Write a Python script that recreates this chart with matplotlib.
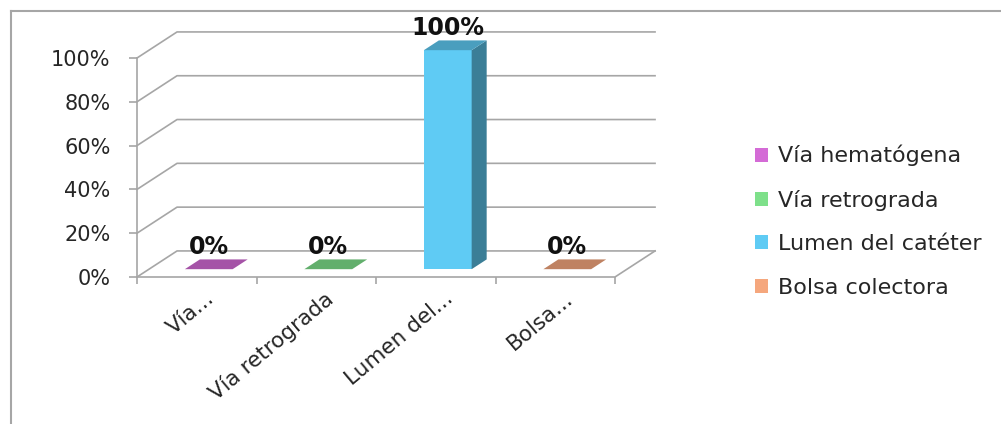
import matplotlib
matplotlib.use('Agg')
import matplotlib.pyplot as plt
from matplotlib.patches import Polygon, Patch
from matplotlib.lines import Line2D
from matplotlib.colors import to_rgb

# Datos del grafico
categorias = ['Vía hematógena', 'Vía retrograda', 'Lumen del catéter', 'Bolsa colectora']
etiquetas_x = ['Vía...', 'Vía retrograda', 'Lumen del...', 'Bolsa...']
valores = [0.0, 0.0, 1.0, 0.0]
colores = ['#d46bd6', '#7ee08a', '#5fcbf4', '#f5a77d']
ticks_y = [0, 0.2, 0.4, 0.6, 0.8, 1.0]

W, H = 1001, 424
gris = '#a6a6a6'

# Profundidad "3D" en unidades de datos
DX = 0.335   # desplazamiento horizontal de la pared del fondo
DY = 0.119   # desplazamiento vertical de la pared del fondo
Z0, Z1 = 0.30, 0.675   # profundidad de la cara frontal y trasera de las barras
ANCHO = 0.40


def sombra(color, f):
    r, g, b = to_rgb(color)
    return (r * f, g * f, b * f)


fig = plt.figure(figsize=(W / 100, H / 100), dpi=100)
ax = fig.add_axes([137 / W, 1 - 277 / H, (615 - 137) / W, 219 / H])
ax.set_xlim(-0.5, 3.5)
ax.set_ylim(0, 1)
for s in ['top', 'right', 'bottom']:
    ax.spines[s].set_visible(False)
ax.spines['left'].set_color(gris)
ax.spines['left'].set_linewidth(1.2)

# Eje y
ax.set_yticks(ticks_y)
ax.set_yticklabels([f'{int(t * 100)}%' for t in ticks_y], fontsize=15, color='#262626')
ax.tick_params(axis='y', length=6, width=1.2, color=gris, pad=13)

# Eje x: marcas en los limites de categoria, etiquetas aparte
ax.set_xticks([i - 0.5 for i in range(len(categorias) + 1)])
ax.set_xticklabels([])
ax.tick_params(axis='x', length=5, width=1.2, color=gris)

# Lineas de cuadricula (pared lateral + pared del fondo)
x0, x1 = -0.5, len(categorias) - 0.5
for t in ticks_y:
    ax.plot([x0, x0 + DX, x1 + DX], [t, t + DY, t + DY], color=gris, lw=1.2, clip_on=False, zorder=1)
# Suelo
ax.plot([x0, x1, x1 + DX], [0, 0, DY], color=gris, lw=1.2, clip_on=False, zorder=1)

# Barras
for i, (v, c) in enumerate(zip(valores, colores)):
    xl = i - ANCHO / 2 + Z0 * DX
    xr = xl + ANCHO
    y0 = Z0 * DY
    d = Z1 - Z0
    top_c = sombra(c, 0.78)
    if v > 0:
        ax.bar(i + Z0 * DX, v, width=ANCHO, bottom=y0, color=c, zorder=3, clip_on=False)
        lado = Polygon([(xr, y0), (xr + d * DX, y0 + d * DY), (xr + d * DX, y0 + v + d * DY), (xr, y0 + v)],
                       closed=True, facecolor=sombra(c, 0.62), edgecolor='none', zorder=3, clip_on=False)
        ax.add_patch(lado)
    tapa = Polygon([(xl, y0 + v), (xr, y0 + v), (xr + d * DX, y0 + v + d * DY), (xl + d * DX, y0 + v + d * DY)],
                   closed=True, facecolor=top_c, edgecolor='none', zorder=4, clip_on=False)
    ax.add_patch(tapa)
    ax.annotate(f'{int(v * 100)}%', (i + Z0 * DX, y0 + v), xytext=(0, 16), textcoords='offset points',
                ha='center', va='center', fontsize=17, fontweight='bold', color='#111111',
                annotation_clip=False, zorder=5)

# Etiquetas de categoria
for i, lab in enumerate(etiquetas_x):
    ax.text(i + 0.07, -0.05, lab, rotation=40, rotation_mode='anchor', ha='right', va='top',
            fontsize=15.5, color='#262626', clip_on=False)

# Leyenda
handles = [Patch(facecolor=c, edgecolor='none') for c in colores]
fig.legend(handles, categorias, loc='upper left', bbox_to_anchor=(755 / W, 1 - 145 / H),
           frameon=False, fontsize=16, handlelength=0.6, handleheight=0.6, handletextpad=0.45,
           labelspacing=1.05, borderpad=0, borderaxespad=0, labelcolor='#262626')

# Marco del grafico (solo borde superior e izquierdo visibles)
fig.add_artist(Line2D([11 / W, 1], [1 - 11 / H, 1 - 11 / H], color=gris, lw=1.5))
fig.add_artist(Line2D([11 / W, 11 / W], [0, 1 - 11 / H], color=gris, lw=1.5))

fig.savefig('out.png', dpi=100)
